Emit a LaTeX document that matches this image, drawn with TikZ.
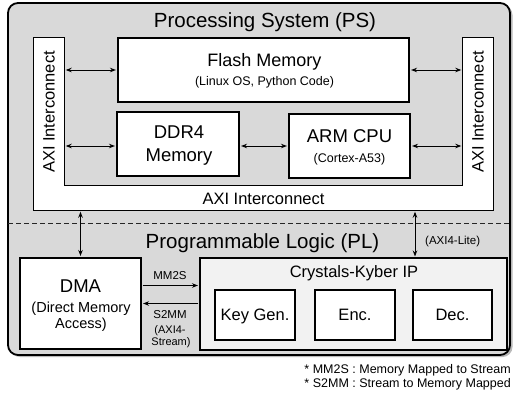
\documentclass[tikz,border=0pt]{standalone}
\usepackage{fontspec}
\setmainfont{Liberation Sans}
\usetikzlibrary{arrows.meta}
\definecolor{psgray}{RGB}{217,217,217}
\definecolor{ipfill}{RGB}{242,242,242}
\newcommand\setfs[1]{\fontsize{#1}{#1}\selectfont}
\tikzset{
  blk/.style={draw, fill=white, line width=1.1pt, inner sep=0pt},
  bus/.style={fill=white, inner sep=0pt},
  txt/.style={inner sep=0pt, anchor=base},
  link/.style={line width=1pt,
    {Stealth[length=6pt,width=4.5pt]}-{Stealth[length=6pt,width=4.5pt]},
    shorten <=1.5pt, shorten >=1.5pt},
  oneway/.style={line width=1pt, -{Stealth[length=6pt,width=4.5pt]},
    shorten <=1pt, shorten >=1.5pt},
}
\begin{document}
\begin{tikzpicture}[x=1pt,y=-1pt]
\useasboundingbox (0,0) rectangle (513,394);

% enclosure of the whole SoC, with a soft drop shadow
\fill[gray!55, rounded corners=10pt] (10,5) rectangle (512.5,357);
\draw[fill=psgray, line width=1.8pt, rounded corners=10pt] (8,3) rectangle (510,355);

\node[txt] (pstitle) at (265,27) {\setfs{20.5}Processing System (PS)};

% U-shaped AXI interconnect
\node[bus, minimum width=30pt, minimum height=172pt] (lbar) at (49,124) {};
\node[bus, minimum width=30pt, minimum height=172pt] (rbar) at (478,124) {};
\node[bus, minimum width=459pt, minimum height=24pt] (bbar) at (263.5,198) {};
\draw[line width=1.1pt] (lbar.north west) -- (lbar.north east)
  -- (lbar.east |- bbar.north) -- (rbar.west |- bbar.north)
  -- (rbar.north west) -- (rbar.north east) -- (bbar.south east)
  -- (bbar.south west) -- cycle;
\node[rotate=90, inner sep=0pt] (laxi) at (49,112) {\setfs{16.5}AXI Interconnect};
\node[rotate=90, inner sep=0pt] (raxi) at (478,112) {\setfs{16.5}AXI Interconnect};
\node[txt] (baxi) at (263.5,204) {\setfs{16.5}AXI Interconnect};

% PS blocks
\node[blk, minimum width=291pt, minimum height=64pt] (flash) at (263.5,70) {};
\node[txt] (flasht) at (264.5,66.5) {\setfs{18}Flash Memory};
\node[txt] (flashs) at (264.5,85.5) {\setfs{12.5}(Linux OS, Python Code)};

\node[blk, minimum width=122pt, minimum height=64pt] (ddr) at (178,144) {};
\node[txt] (ddrt) at (179,138) {\setfs{18.5}DDR4};
\node[txt] (ddrs) at (179,161) {\setfs{18.5}Memory};

\node[blk, minimum width=121pt, minimum height=64pt] (arm) at (349.5,146) {};
\node[txt] (armt) at (349.5,142) {\setfs{18.5}ARM CPU};
\node[txt] (arms) at (349.5,162) {\setfs{12.5}(Cortex-A53)};

\draw[link] (lbar.east |- flash.west) -- (flash.west);
\draw[link] (flash.east) -- (flash.east -| rbar.west);
\draw[link] (lbar.east |- arm.west) -- (ddr.west |- arm.west);
\draw[link] (ddr.east |- arm.west) -- (arm.west);
\draw[link] (arm.east) -- (arm.east -| rbar.west);

% PS / PL boundary
\draw[dash pattern=on 5pt off 3pt, line width=1pt, gray!30!black] (8,223) -- (510,223);
\node[txt] (pltitle) at (262.5,248) {\setfs{20.5}Programmable Logic (PL)};

% PL blocks
\node[blk, minimum width=121pt, minimum height=91pt] (dma) at (80.5,303.5) {};
\node[txt] (dmat) at (80.5,292) {\setfs{18.5}DMA};
\node[txt] (dmas1) at (81,312) {\setfs{14.5}(Direct Memory};
\node[txt] (dmas2) at (81,328) {\setfs{14.5}Access)};

\node[blk, fill=ipfill, minimum width=307pt, minimum height=92pt] (ip) at (353.5,304) {};
\node[txt] (ipt) at (354,277) {\setfs{16.5}Crystals-Kyber IP};
\node[blk, minimum width=80pt, minimum height=50pt, text height=11.8pt, text depth=0pt]
  (keygen) at (255,315) {\setfs{16.5}Key Gen.};
\node[blk, minimum width=80pt, minimum height=50pt, text height=11.8pt, text depth=0pt]
  (enc) at (355,315) {\setfs{16.5}Enc.};
\node[blk, minimum width=79pt, minimum height=50pt, text height=11.8pt, text depth=0pt]
  (dec) at (452.5,315) {\setfs{16.5}Dec.};

% AXI4-Stream between DMA and the IP
\draw[oneway] ([yshift=18pt]dma.east) -- ([yshift=18pt]dma.east -| ip.west);
\draw[oneway] (ip.west |- dma.east) -- (dma.east);
\node[txt] (mm2s) at (170,279) {\setfs{11.5}MM2S};
\node[txt] (s2mm) at (170,318) {\setfs{11.5}S2MM};
\node[txt] (axis1) at (170,333.5) {\setfs{11}(AXI4-};
\node[txt] (axis2) at (171,345) {\setfs{11}Stream)};

% PS-PL links
\draw[link] (dma.north) -- (dma.north |- bbar.south);
\coordinate (liteport) at (415,258);
\draw[link] (liteport) -- (liteport |- bbar.south);
\node[txt, anchor=base west] (lite) at (425,244) {\setfs{11.5}(AXI4-Lite)};

% notes
\node[txt, anchor=base east] (fn1) at (511,373) {\setfs{12.5}* MM2S : Memory Mapped to Stream};
\node[txt, anchor=base east] (fn2) at (511,387) {\setfs{12.5}* S2MM : Stream to Memory Mapped};
\end{tikzpicture}
\end{document}
